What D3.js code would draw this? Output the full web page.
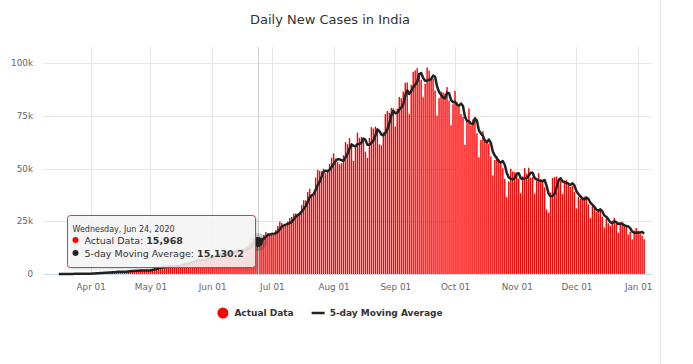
<!DOCTYPE html>
<html>
<head>
<meta charset="utf-8">
<script src="https://cdn.jsdelivr.net/npm/d3@7"></script>
<style>
  body { margin: 0; background: #fff; }
  svg { display: block; font-family: "DejaVu Sans", sans-serif; }
</style>
</head>
<body>
<svg id="chart"></svg>
<script>
const W = 693, H = 364;
const chartW = 660; // chart container width (border line at the right)
const margin = {top: 47, right: chartW - 651.7, bottom: 90, left: 43.3};

// daily new cases (report dates), first day = Mar 16 2020
const startDate = "2020-03-16";
const casesMar = [7, 12, 14, 22, 44, 60, 74, 81, 77, 72, 87, 75, 149, 106, 92, 227];
const casesApr = [146, 437, 336, 525, 472, 693, 508, 773, 591, 896, 1035, 909, 905, 1211, 1118,
    1076, 1007, 991, 1334, 1553, 1540, 1486, 1409, 1752, 1490, 1975, 1396, 1543, 1813, 1718];
const casesMay = [1993, 2411, 2644, 2573, 3900, 2958, 3561, 3390, 3320, 3277, 4213, 3604, 3525,
    3722, 3967, 3970, 4987, 5242, 4970, 5611, 5609, 6088, 6654, 6767, 6977, 6535, 6387, 6566,
    7466, 7964, 8380];
const casesJun = [8392, 8171, 8909, 9304, 9851, 9887, 9971, 9983, 9987, 9985, 9996, 10956, 11458,
    11929, 11502, 10667, 10974, 12881, 13586, 14516, 15413, 14821, 14933, 15968, 16922, 17296,
    18552, 19906, 19459, 18522];
const casesJul = [18653, 19148, 20903, 22771, 24850, 24248, 22252, 22752, 24879, 26506, 27114,
    28637, 28701, 28498, 29429, 32695, 34956, 34884, 38902, 40425, 37148, 37724, 45720, 49310,
    48916, 48661, 49931, 47704, 48513, 52123, 55079];
const casesAug = [57118, 54735, 52972, 52050, 52509, 56282, 62538, 61537, 64399, 62064, 53601,
    60963, 66999, 64553, 65002, 63490, 57981, 55079, 64531, 69652, 68898, 69878, 69239, 61408,
    60975, 67151, 75760, 77266, 76472, 78761, 78512];
const casesSep = [69921, 78357, 83883, 83341, 86432, 90632, 90802, 75809, 89706, 95735, 96551,
    97570, 94372, 92071, 83809, 90123, 97894, 96424, 93337, 92605, 86961, 75083, 83347, 86508,
    86052, 85362, 88600, 82170, 70589, 80472];
const casesOct = [86821, 81484, 79476, 75829, 74442, 61267, 72049, 78524, 70496, 73272, 74383,
    66732, 55342, 63509, 67708, 63371, 62212, 61871, 55722, 46790, 54044, 55839, 54366, 53370,
    50129, 45148, 36470, 43893, 49881, 48648, 48268];
const casesNov = [46964, 45231, 38310, 46253, 50209, 47638, 50356, 45674, 45903, 38073, 44281,
    47905, 44878, 44684, 41100, 30548, 29163, 38617, 45576, 45882, 46232, 45209, 44059, 37975,
    44376, 44489, 43082, 41322, 41810, 38772];
const casesDec = [31118, 36604, 35551, 36595, 36652, 36011, 32981, 26567, 32080, 31521, 29398,
    30006, 30254, 27071, 22065, 26382, 24010, 22890, 25152, 26624, 24337, 19556, 23950, 24712,
    23068, 22273, 18732, 20021, 16432, 20550, 21822];
const casesJan = [20035, 19079, 18177, 16504];

const xTicks = ["2020-04-01", "2020-05-01", "2020-06-01", "2020-07-01", "2020-08-01",
    "2020-09-01", "2020-10-01", "2020-11-01", "2020-12-01", "2021-01-01"];
const yTicks = [0, 25000, 50000, 75000, 100000];
const hoverDate = "2020-06-24";

const parse = d3.timeParse("%Y-%m-%d");
const allCases = [].concat(casesMar, casesApr, casesMay, casesJun, casesJul, casesAug,
    casesSep, casesOct, casesNov, casesDec, casesJan);
const t0 = parse(startDate);
const data = allCases.map((v, i) => ({date: d3.timeDay.offset(t0, i), value: v}));
// 5-day trailing moving average
data.forEach((d, i) => {
    d.ma = d3.mean(data.slice(Math.max(0, i - 4), i + 1), e => e.value);
});

const svg = d3.select("#chart").attr("width", W).attr("height", H);

const x = d3.scaleTime()
    .domain([new Date(2020, 2, 8, 4, 48), new Date(2021, 0, 7, 19, 12)])
    .range([margin.left, chartW - margin.right]);
const y = d3.scaleLinear()
    .domain([0, 107600])
    .range([H - margin.bottom, margin.top]);

// container border on the right
svg.append("line")
    .attr("x1", chartW + 0.5).attr("x2", chartW + 0.5)
    .attr("y1", 0).attr("y2", H)
    .attr("stroke", "#e6e6e6");

// title
svg.append("text")
    .attr("x", chartW / 2).attr("y", 24)
    .attr("text-anchor", "middle")
    .attr("font-size", "13px")
    .attr("fill", "#333")
    .text("Daily New Cases in India");

// grid
svg.append("g")
    .selectAll("line")
    .data(yTicks.slice(1))
    .join("line")
    .attr("x1", margin.left).attr("x2", chartW - margin.right)
    .attr("y1", d => Math.round(y(d)) + 0.5).attr("y2", d => Math.round(y(d)) + 0.5)
    .attr("stroke", "#e6e6e6");

svg.append("g")
    .selectAll("line")
    .data(xTicks.map(parse))
    .join("line")
    .attr("x1", d => Math.round(x(d)) + 0.5).attr("x2", d => Math.round(x(d)) + 0.5)
    .attr("y1", margin.top).attr("y2", H - margin.bottom)
    .attr("stroke", "#e6e6e6");

// y labels
svg.append("g")
    .selectAll("text")
    .data(yTicks)
    .join("text")
    .attr("x", 33)
    .attr("y", d => y(d) + 3)
    .attr("text-anchor", "end")
    .attr("font-size", "8.8px")
    .attr("fill", "#666")
    .text(d => d === 0 ? "0" : (d / 1000) + "k");

// x axis
const xAxis = d3.axisBottom(x)
    .tickValues(xTicks.map(parse))
    .tickFormat(d3.timeFormat("%b %d"))
    .tickSize(0)
    .tickPadding(10);

const gx = svg.append("g")
    .attr("transform", `translate(0,${H - margin.bottom})`)
    .call(xAxis);
gx.select(".domain").attr("stroke", "#ccd6eb").attr("d", `M${margin.left},0.5H${chartW - margin.right}`);
gx.selectAll("text")
    .attr("font-size", "8.8px")
    .attr("font-family", "DejaVu Sans, sans-serif")
    .attr("fill", "#666");

// bars
const bw = 1.4;
svg.append("g")
    .selectAll("rect")
    .data(data)
    .join("rect")
    .attr("x", d => x(d.date) - bw / 2)
    .attr("width", bw)
    .attr("y", d => y(d.value))
    .attr("height", d => y(0) - y(d.value))
    .attr("fill", "#ff0000");

// crosshair
const hd = parse(hoverDate);
const hp = data.find(d => +d.date === +hd);
svg.append("line")
    .attr("x1", Math.round(x(hd)) + 0.5).attr("x2", Math.round(x(hd)) + 0.5)
    .attr("y1", margin.top).attr("y2", H - margin.bottom)
    .attr("stroke", "#cccccc");

// moving average line
const line = d3.line()
    .x(d => x(d.date))
    .y(d => y(d.ma));

svg.append("path")
    .datum(data)
    .attr("d", line)
    .attr("fill", "none")
    .attr("stroke", "#222")
    .attr("stroke-width", 2.5)
    .attr("stroke-linejoin", "round");

// hover marker
svg.append("circle")
    .attr("cx", x(hd)).attr("cy", y(hp.ma))
    .attr("r", 9)
    .attr("fill", "#222")
    .attr("opacity", 0.22);
svg.append("circle")
    .attr("cx", x(hd)).attr("cy", y(hp.ma))
    .attr("r", 5)
    .attr("fill", "#222");

// tooltip
const defs = svg.append("defs");
const f = defs.append("filter").attr("id", "shadow")
    .attr("x", "-10%").attr("y", "-20%").attr("width", "130%").attr("height", "150%");
f.append("feDropShadow")
    .attr("dx", 1).attr("dy", 1).attr("stdDeviation", 1.5)
    .attr("flood-color", "#000").attr("flood-opacity", 0.18);

const tip = svg.append("g").attr("transform", "translate(67.5,215.5)");
tip.append("rect")
    .attr("width", 188).attr("height", 52)
    .attr("rx", 3)
    .attr("fill", "rgba(247,247,247,0.85)")
    .attr("stroke", "#ff2a2a")
    .attr("filter", "url(#shadow)");
tip.append("text")
    .attr("x", 5).attr("y", 16)
    .attr("font-size", "8px")
    .attr("fill", "#333")
    .text(d3.timeFormat("%A, %b %d, %Y")(hd));

const tipRows = [
    {color: "#ff0000", label: "Actual Data: ", val: d3.format(",")(hp.value)},
    {color: "#222", label: "5-day Moving Average: ", val: d3.format(",.1f")(hp.ma)}
];
tipRows.forEach((r, i) => {
    const yy = 28 + i * 13;
    tip.append("circle")
        .attr("cx", 8).attr("cy", yy - 3.5).attr("r", 3)
        .attr("fill", r.color);
    const t = tip.append("text")
        .attr("x", 17).attr("y", yy)
        .attr("font-size", "9.5px")
        .attr("fill", "#333");
    t.append("tspan").text(r.label);
    t.append("tspan").attr("font-weight", "bold").text(r.val);
});

// legend
const legendItems = [
    {name: "Actual Data", type: "circle", color: "#ff0000"},
    {name: "5-day Moving Average", type: "line", color: "#222"}
];
const lg = svg.append("g");
let lx = 0;
legendItems.forEach(it => {
    const g = lg.append("g").attr("transform", `translate(${lx},0)`);
    if (it.type === "circle") {
        g.append("circle").attr("cx", 5.5).attr("cy", 0).attr("r", 5.5).attr("fill", it.color);
    } else {
        g.append("line").attr("x1", 0).attr("x2", 13).attr("y1", 0).attr("y2", 0)
            .attr("stroke", it.color).attr("stroke-width", 2.5);
    }
    const sw = it.type === "circle" ? 17 : 18;
    const txt = g.append("text")
        .attr("x", sw).attr("y", 3.3)
        .attr("font-size", "9px")
        .attr("font-weight", "bold")
        .attr("fill", "#333")
        .text(it.name);
    lx += sw + txt.node().getComputedTextLength() + 18;
});
lx -= 18;
lg.attr("transform", `translate(${chartW / 2 - lx / 2},313)`);
</script>
</body>
</html>
